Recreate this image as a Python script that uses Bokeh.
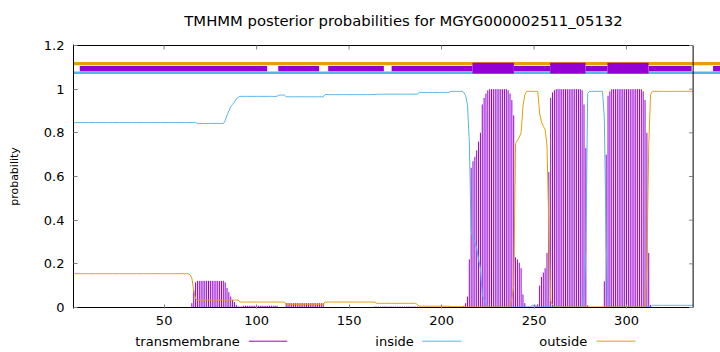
from bokeh.plotting import figure
from bokeh.layouts import column
from bokeh.models import Range1d, FixedTicker
from bokeh.core.properties import value
from bokeh.embed import file_html
from bokeh.resources import INLINE

# ---------------- data ----------------
SEQ_LEN = 336
TITLE = "TMHMM posterior probabilities for MGYG000002511_05132"
Y_LABEL = "probability"
X_TICKS = [50, 100, 150, 200, 250, 300]
Y_TICKS = [0, 0.2, 0.4, 0.6, 0.8, 1, 1.2]
Y_TICK_LABELS = ["0", "0.2", "0.4", "0.6", "0.8", "1", "1.2"]
SERIES_NAMES = ["transmembrane", "inside", "outside"]

# per-residue posterior probabilities, run-length listed as (value, count) or single values
TM_RUNS = [(0.0, 64), 0.02, 0.08, 0.115, (0.122, 15),
           0.115, 0.09, 0.07, 0.05, 0.035, 0.025, 0.012, 0.005, 0.003, 0.005,
           (0.008, 19), (0.002, 4), (0.02, 21), (0.0, 27), (0.004, 24), (0.003, 17),
           (0.002, 7), 0.008,
           0.02, 0.05, 0.22, 0.64, 0.67, 0.69, 0.72, 0.76, 0.80, 0.93, 0.96, 0.98, 0.995,
           (1.0, 10),
           0.995, 0.98, 0.95, 0.88, 0.23, 0.22, 0.205, 0.18, 0.06, 0.02,
           (0.004, 4),
           0.005, 0.006, 0.015, 0.10, 0.14, 0.16, 0.18, 0.25, 0.62, 0.96, 0.985, 0.995,
           (1.0, 14),
           0.995, 0.93, 0.73, 0.01,
           (0.003, 8),
           0.12, 0.70, 0.97, 0.99,
           (1.0, 17),
           0.99, 0.95, 0.80, 0.25, 0.012,
           (0.0, 23)]

INSIDE_RUNS = [(0.847, 67), (0.843, 15),
               0.855, 0.88, 0.90, 0.92, 0.93, 0.94, 0.955, 0.962,
               (0.967, 21), (0.973, 4), (0.965, 21), (0.975, 28), (0.977, 23),
               (0.985, 17), (0.99, 7),
               0.985, 0.97, 0.93, 0.76, 0.35, 0.32, 0.30, 0.27, 0.22, 0.18, 0.06, 0.035, 0.015, 0.005,
               (0.002, 23), (0.01, 3), (0.003, 25),
               0.07, 0.26, 0.98,
               (0.99, 8),
               0.87, 0.29, 0.025, 0.01,
               (0.003, 22), (0.01, 23)]

OUTSIDE_RUNS = [(0.155, 62), 0.154, 0.15, 0.135, 0.075, 0.04,
                (0.034, 23), (0.025, 25), (0.015, 21), (0.025, 28), (0.019, 22),
                0.012, (0.006, 17), (0.004, 8), (0.002, 24),
                0.01, 0.04, 0.10, 0.75, 0.765, 0.78, 0.80, 0.92, 0.975,
                (0.99, 7),
                0.89, 0.85, 0.83, 0.815, 0.74, 0.37, 0.03, 0.012, 0.005,
                (0.002, 49),
                0.19, 0.74, 0.975,
                (0.99, 23)]

# topology bars drawn above the curves (residue ranges)
TOPO_OUTSIDE = [(1.0, 352.0)]
TOPO_INSIDE = [(1.0, 352.0)]
TOPO_THIN = [(4.4, 105.7), (111.7, 133.8), (138.7, 168.8), (173.0, 216.7),
             (239.1, 258.7), (277.8, 289.7), (312.0, 335.2), (346.8, 352.0)]
TOPO_TM = [(216.7, 239.1), (258.7, 277.8), (289.7, 311.9)]


def expand(runs):
    out = []
    for r in runs:
        if isinstance(r, tuple):
            out.extend([r[0]] * r[1])
        else:
            out.append(r)
    return out


TM = expand(TM_RUNS)
INSIDE = expand(INSIDE_RUNS)
OUTSIDE = expand(OUTSIDE_RUNS)
XS = list(range(1, SEQ_LEN + 1))
assert len(TM) == len(INSIDE) == len(OUTSIDE) == SEQ_LEN, (len(TM), len(INSIDE), len(OUTSIDE))

# ---------------- styling ----------------
C_TM = "#9400D3"
C_IN = "#56B4E9"
C_OUT = "#E69F00"
C_TICK = "#808080"
FONT = "DejaVu Sans"

W = 720
H_TITLE = 30
H_LEG = 22
H_MAIN = 352 - H_TITLE - H_LEG
FL, FT, FB = 73, 44 - H_TITLE, 22     # frame left / top / bottom borders (px)
PX_PER_RES = 1.8496
FRAME_W = W - FL
X_END = 1 + FRAME_W / PX_PER_RES
PX_PER_Y = 218.0
Y_PAD = 1.0 / PX_PER_Y


def strip(height):
    f = figure(width=W, height=height, x_range=Range1d(FL, W), y_range=Range1d(height, 0),
               output_backend="svg", toolbar_location=None, x_axis_type=None, y_axis_type=None,
               min_border_left=FL, min_border_right=0, min_border_top=0, min_border_bottom=0)
    f.outline_line_color = None
    f.grid.visible = False
    f.background_fill_color = "white"
    f.border_fill_color = "white"
    return f


# ---------------- title strip ----------------
tt = strip(H_TITLE)
tt.text(x=[403], y=[20], text=[TITLE], text_align="center", text_baseline="middle",
        text_font=value(FONT), text_font_size="14.8px", text_color="black")

# ---------------- main plot ----------------
p = figure(width=W, height=H_MAIN, x_range=Range1d(1, X_END),
           y_range=Range1d(-Y_PAD, 1.2 + Y_PAD),
           output_backend="svg", toolbar_location=None,
           min_border_left=FL, min_border_right=0, min_border_top=FT, min_border_bottom=FB)
p.outline_line_color = None
p.grid.visible = False
p.background_fill_color = "white"
p.border_fill_color = "white"

xa = p.xaxis[0]
xa.ticker = FixedTicker(ticks=X_TICKS)
xa.axis_line_color = None
xa.major_tick_in = 4
xa.major_tick_out = 0
xa.minor_tick_line_color = None
xa.major_tick_line_color = C_TICK
xa.major_label_text_font = FONT
xa.major_label_text_font_size = "13px"
xa.major_label_text_color = "black"
xa.major_label_standoff = 7

ya = p.yaxis[0]
ya.ticker = FixedTicker(ticks=Y_TICKS)
ya.major_label_overrides = {t: s for t, s in zip(Y_TICKS, Y_TICK_LABELS)}
ya.axis_line_color = "black"
ya.major_tick_in = 4
ya.major_tick_out = 0
ya.minor_tick_line_color = None
ya.major_tick_line_color = C_TICK
ya.major_label_text_font = FONT
ya.major_label_text_font_size = "13px"
ya.major_label_text_color = "black"
ya.major_label_standoff = 9
ya.axis_label = Y_LABEL
ya.axis_label_text_font = FONT
ya.axis_label_text_font_size = "11px"
ya.axis_label_text_font_style = "normal"
ya.axis_label_text_color = "black"
ya.axis_label_standoff = 20


def bars(ranges, bottom, top_, color):
    p.quad(left=[a for a, b in ranges], right=[b for a, b in ranges],
           bottom=bottom, top=top_, fill_color=color, line_color=None)


bars(TOPO_OUTSIDE, 1.110, 1.124, C_OUT)
bars(TOPO_INSIDE, 1.069, 1.081, C_IN)
bars(TOPO_THIN, 1.082, 1.106, C_TM)
bars(TOPO_TM, 1.072, 1.121, C_TM)

# series
p.segment(x0=XS, y0=[0] * SEQ_LEN, x1=XS, y1=TM, line_color=C_TM, line_width=1)
p.line(XS, INSIDE, line_color=C_IN, line_width=1)
p.line(XS, OUTSIDE, line_color=C_OUT, line_width=1)

# border box (gnuplot style) and mirrored ticks on top and right
p.segment(x0=[1, 1, SEQ_LEN], y0=[0, 1.2, 0], x1=[SEQ_LEN, SEQ_LEN, SEQ_LEN], y1=[0, 1.2, 1.2],
          line_color="black", line_width=1)
tick_dx = 4 / PX_PER_RES
tick_dy = 4 / PX_PER_Y
p.segment(x0=[SEQ_LEN] * len(Y_TICKS), y0=Y_TICKS, x1=[SEQ_LEN - tick_dx] * len(Y_TICKS), y1=Y_TICKS,
          line_color=C_TICK, line_width=1)
p.segment(x0=X_TICKS, y0=[1.2] * len(X_TICKS), x1=X_TICKS, y1=[1.2 - tick_dy] * len(X_TICKS),
          line_color=C_TICK, line_width=1)

# ---------------- legend strip (gnuplot style: text then sample line) ----------------
leg = strip(H_LEG)
LEG_TEXT_RIGHT = [239.3, 413.3, 586.7]
LEG_LINE_X0 = [248.3, 421.7, 596.0]
LEG_LINE_X1 = [286.7, 461.0, 635.0]
LEG_Y = 340.7 - (H_TITLE + H_MAIN)
leg.text(x=LEG_TEXT_RIGHT, y=[LEG_Y] * 3, text=SERIES_NAMES, text_align="right",
         text_baseline="middle", text_font=value(FONT), text_font_size="13px", text_color="black")
leg.segment(x0=LEG_LINE_X0, y0=[LEG_Y] * 3, x1=LEG_LINE_X1, y1=[LEG_Y] * 3,
            line_color=[C_TM, C_IN, C_OUT], line_width=1)

layout = column(tt, p, leg, spacing=0)
open("out.html", "w").write(file_html(layout, INLINE))
